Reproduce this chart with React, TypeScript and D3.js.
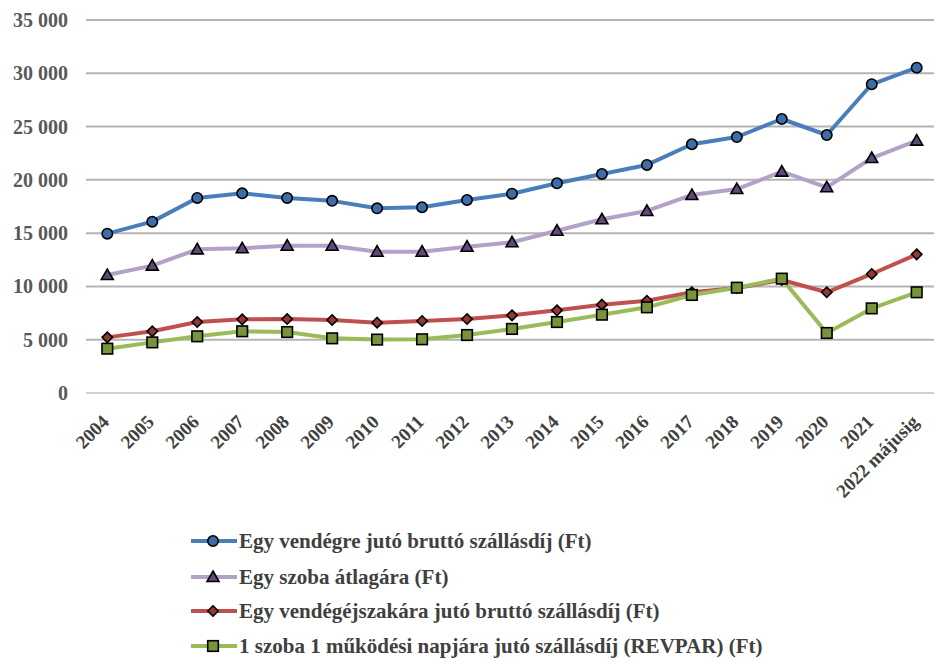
import React from "react";
import * as d3 from "d3";

const categories = ["2004","2005","2006","2007","2008","2009","2010","2011","2012","2013","2014","2015","2016","2017","2018","2019","2020","2021","2022 májusig"];
const perGuest = [14950,16080,18300,18740,18300,18030,17330,17430,18110,18700,19680,20550,21400,23340,24020,25710,24210,28970,30530];
const roomRate = [11070,11950,13480,13580,13820,13820,13260,13260,13730,14140,15230,16300,17080,18580,19140,20770,19300,22050,23680];
const perNight = [5220,5790,6660,6910,6940,6850,6600,6760,6940,7290,7760,8290,8660,9450,9850,10600,9450,11170,13010];
const revpar = [4160,4750,5320,5790,5720,5130,5010,5040,5440,6010,6660,7350,8040,9200,9880,10730,5630,7940,9450];
const yTicks = [0,5000,10000,15000,20000,25000,30000,35000];
const seriesNames = [
  "Egy vendégre jutó bruttó szállásdíj (Ft)",
  "Egy szoba átlagára (Ft)",
  "Egy vendégéjszakára jutó bruttó szállásdíj (Ft)",
  "1 szoba 1 működési napjára jutó szállásdíj (REVPAR) (Ft)",
];

const series = [
  { name: seriesNames[0], values: perGuest, line: "#4A7EBB", fill: "#3C6DA8", marker: "circle" },
  { name: seriesNames[1], values: roomRate, line: "#B3A2C7", fill: "#5F497A", marker: "triangle" },
  { name: seriesNames[2], values: perNight, line: "#C0504D", fill: "#953735", marker: "diamond" },
  { name: seriesNames[3], values: revpar, line: "#9BBB59", fill: "#77933C", marker: "square" },
];

const W = 934, H = 658;
const x = d3.scalePoint<string>().domain(categories).range([107.3, 916.7]);
const y = d3.scaleLinear().domain([0, 35000]).range([393, 20]);
const fmt = (v: number) => d3.format(",")(v).replace(/,/g, " ");

function Marker({ type, cx, cy, fill }: { type: string; cx: number; cy: number; fill: string }) {
  const st = { fill, stroke: "#000", strokeWidth: 1.6 };
  if (type === "circle") return <circle cx={cx} cy={cy} r={5.2} {...st} />;
  if (type === "square") return <rect x={cx - 5.3} y={cy - 5.3} width={10.6} height={10.6} {...st} />;
  if (type === "diamond") {
    const r = 5.2;
    return <path d={`M${cx},${cy - r}L${cx + r},${cy}L${cx},${cy + r}L${cx - r},${cy}Z`} {...st} />;
  }
  const s = 6;
  return <path d={`M${cx},${cy - s}L${cx + s},${cy + s * 0.75}L${cx - s},${cy + s * 0.75}Z`} {...st} />;
}

export default function App() {
  const line = d3.line<number>().x((_, i) => x(categories[i])!).y((d) => y(d));
  const legendY = [541, 577, 611, 646];
  return (
    <svg width={W} height={H} style={{ position: "absolute", left: 0, top: 0, background: "#fff" }}>
      {yTicks.map((t) => (
        <g key={t}>
          <line x1={86} x2={934} y1={y(t)} y2={y(t)} stroke={t === 0 ? "#D0D0D0" : "#B4B4B4"} strokeWidth={2} />
          <text x={68} y={y(t)} dy="0.35em" textAnchor="end" fontFamily="Liberation Serif" fontWeight="bold" fontSize={20} fill="#595959">
            {fmt(t)}
          </text>
        </g>
      ))}
      {categories.map((c) => (
        <text key={c} transform={`translate(${x(c)! + 3},${423}) rotate(-45)`} textAnchor="end" fontFamily="Liberation Serif" fontWeight="bold" fontSize={19} fill="#404040">
          {c}
        </text>
      ))}
      {series.map((s) => (
        <g key={s.name}>
          <path d={line(s.values)!} fill="none" stroke={s.line} strokeWidth={4} strokeLinejoin="round" />
          {s.values.map((v, i) => (
            <Marker key={i} type={s.marker} cx={x(categories[i])!} cy={y(v)} fill={s.fill} />
          ))}
        </g>
      ))}
      {series.map((s, i) => (
        <g key={"lg" + i}>
          <line x1={191} x2={237} y1={legendY[i]} y2={legendY[i]} stroke={s.line} strokeWidth={4} />
          <Marker type={s.marker} cx={213} cy={legendY[i]} fill={s.fill} />
          <text x={239} y={legendY[i]} dy="0.35em" fontFamily="Liberation Serif" fontWeight="bold" fontSize={21} fill="#404040">
            {s.name}
          </text>
        </g>
      ))}
    </svg>
  );
}
